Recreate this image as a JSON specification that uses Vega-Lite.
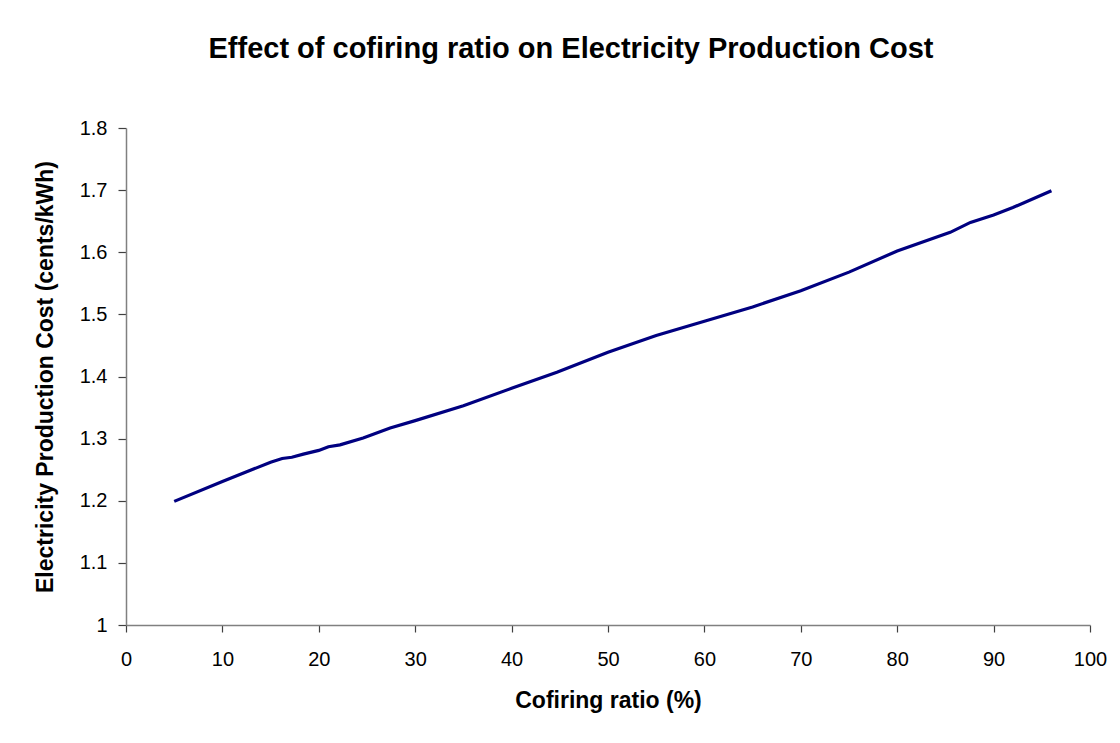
{
  "$schema": "https://vega.github.io/schema/vega-lite/v6.json",
  "autosize": {"type": "none"},
  "width": 964,
  "height": 497,
  "padding": {"left": 126, "top": 128, "right": 30, "bottom": 118},
  "background": "white",
  "title": {
    "text": "Effect of cofiring ratio on Electricity Production Cost",
    "font": "Liberation Sans",
    "fontSize": 29,
    "fontWeight": "bold",
    "color": "black",
    "anchor": "middle",
    "baseline": "alphabetic",
    "offset": 31,
    "dx": -37
  },
  "data": {
    "values": [
      {"ratio": 5, "cost": 1.199},
      {"ratio": 10, "cost": 1.231},
      {"ratio": 15, "cost": 1.262},
      {"ratio": 16.2, "cost": 1.268},
      {"ratio": 17.2, "cost": 1.270},
      {"ratio": 18.4, "cost": 1.275},
      {"ratio": 20, "cost": 1.281},
      {"ratio": 21, "cost": 1.287},
      {"ratio": 22.2, "cost": 1.290},
      {"ratio": 24.6, "cost": 1.301},
      {"ratio": 27.4, "cost": 1.317},
      {"ratio": 30, "cost": 1.329},
      {"ratio": 35, "cost": 1.353},
      {"ratio": 40, "cost": 1.381},
      {"ratio": 44.7, "cost": 1.407},
      {"ratio": 50, "cost": 1.439},
      {"ratio": 55, "cost": 1.466},
      {"ratio": 60, "cost": 1.489},
      {"ratio": 65, "cost": 1.512},
      {"ratio": 70, "cost": 1.538},
      {"ratio": 75, "cost": 1.568},
      {"ratio": 80, "cost": 1.602},
      {"ratio": 85.5, "cost": 1.632},
      {"ratio": 87.6, "cost": 1.648},
      {"ratio": 90, "cost": 1.660},
      {"ratio": 92, "cost": 1.672},
      {"ratio": 96, "cost": 1.699}
    ]
  },
  "mark": {"type": "line", "color": "#000080", "strokeWidth": 3.2, "interpolate": "linear"},
  "encoding": {
    "x": {
      "field": "ratio",
      "type": "quantitative",
      "scale": {"domain": [0, 100], "nice": false, "zero": false},
      "axis": {
        "title": "Cofiring ratio (%)",
        "values": [0, 10, 20, 30, 40, 50, 60, 70, 80, 90, 100],
        "grid": false,
        "tickSize": 7,
        "labelPadding": 17,
        "titlePadding": 20,
        "labelFlush": false
      }
    },
    "y": {
      "field": "cost",
      "type": "quantitative",
      "scale": {"domain": [1, 1.8], "nice": false, "zero": false},
      "axis": {
        "title": "Electricity Production Cost (cents/kWh)",
        "values": [1, 1.1, 1.2, 1.3, 1.4, 1.5, 1.6, 1.7, 1.8],
        "format": "~g",
        "grid": false,
        "tickSize": 8,
        "labelPadding": 11,
        "titlePadding": 22,
        "labelFlush": false
      }
    }
  },
  "config": {
    "view": {"stroke": null},
    "axis": {
      "labelFont": "Liberation Sans",
      "labelFontSize": 20,
      "labelColor": "black",
      "titleFont": "Liberation Sans",
      "titleFontSize": 23,
      "titleFontWeight": "bold",
      "titleColor": "black",
      "domainColor": "#808080",
      "domainWidth": 1.5,
      "tickColor": "#404040",
      "tickWidth": 1.2
    }
  }
}
